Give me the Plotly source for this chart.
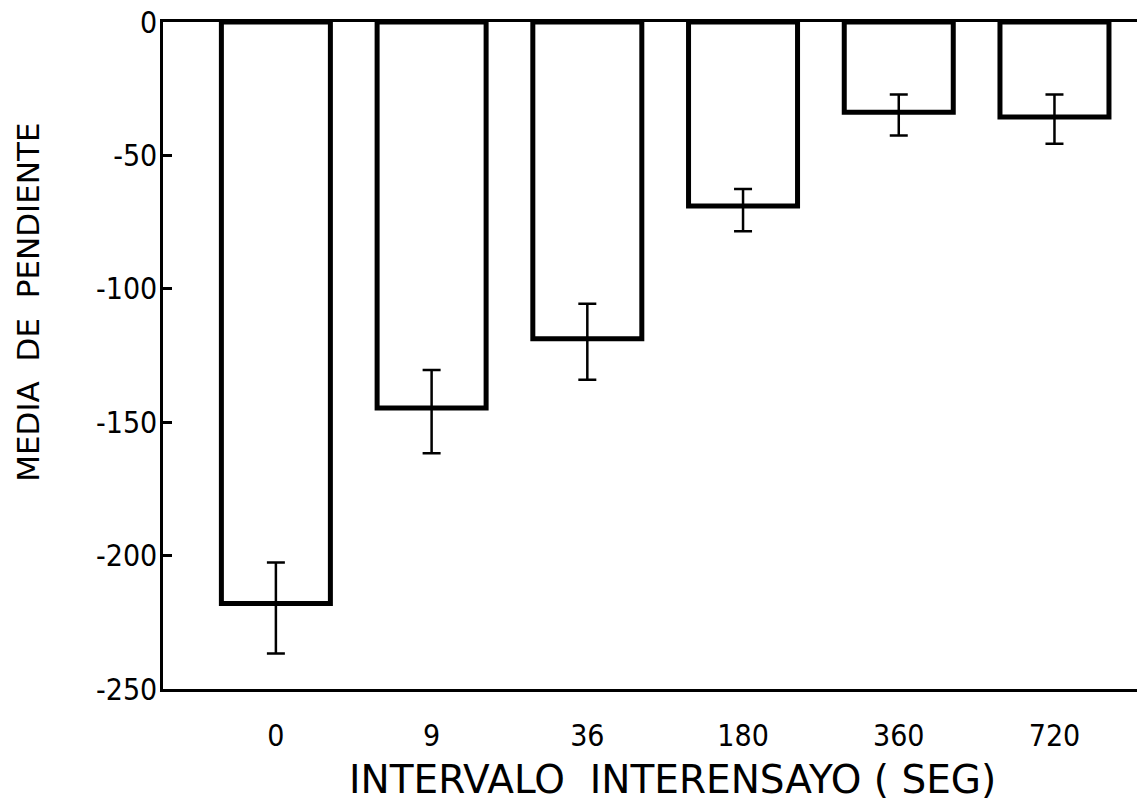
import plotly.graph_objects as go

categories = ["0", "9", "36", "180", "360", "720"]
means = [-218.0, -144.7, -118.7, -69.0, -33.8, -35.6]
err_up = [15.4, 14.3, 13.1, 6.4, 6.6, 8.4]
err_down = [18.7, 16.9, 15.4, 9.4, 8.7, 10.0]
y_ticks = [0, -50, -100, -150, -200, -250]

tick_font = dict(family="DejaVu Sans Condensed, Liberation Sans Narrow, DejaVu Sans", size=30, color="black")
title_font_x = dict(family="DejaVu Sans", size=39, color="black")
title_font_y = dict(family="DejaVu Sans", size=31, color="black")

fig = go.Figure()
fig.add_trace(go.Bar(
    x=categories,
    y=means,
    width=0.70,
    marker=dict(color="white", line=dict(color="black", width=5)),
    error_y=dict(type="data", symmetric=False, array=err_up, arrayminus=err_down,
                 color="black", thickness=2.5, width=9),
    showlegend=False,
))

fig.update_layout(
    width=1137, height=801,
    margin=dict(l=163, r=0, t=22, b=112),
    plot_bgcolor="white", paper_bgcolor="white",
    bargap=0.3,
    xaxis=dict(type="category", range=[-0.725, 5.53], showline=True, linecolor="black",
               linewidth=3, mirror=True, ticks="", showgrid=False, zeroline=False,
               tickfont=tick_font, ticklabelstandoff=18),
    yaxis=dict(range=[-250, 0], tickvals=y_ticks, ticktext=[str(v) for v in y_ticks],
               showline=True, linecolor="black", linewidth=2.5, ticks="inside",
               ticklen=9, tickwidth=2.5, tickcolor="black", showgrid=False, zeroline=False,
               tickfont=tick_font, ticklabelstandoff=-3),
    annotations=[
        dict(text="INTERVALO  INTERENSAYO ( SEG)", xref="paper", yref="paper",
             x=0.5226, y=-0.136, xanchor="center", yanchor="middle", showarrow=False,
             font=title_font_x),
        dict(text="MEDIA  DE  PENDIENTE", xref="paper", yref="paper",
             x=-0.138, y=0.58, xanchor="center", yanchor="middle", showarrow=False,
             textangle=-90, font=title_font_y),
    ],
)

fig.write_html("out.html")
